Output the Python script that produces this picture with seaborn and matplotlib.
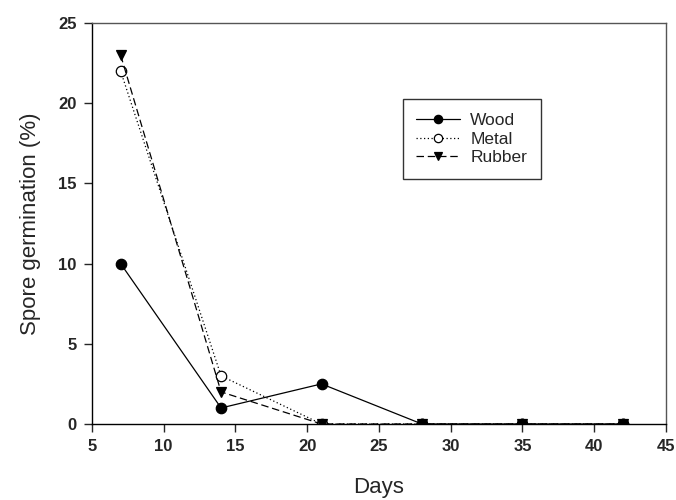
import matplotlib

matplotlib.use("Agg")
import matplotlib.pyplot as plt
import pandas as pd
import seaborn as sns

days = [7, 14, 21, 28, 35, 42]
wood = [10, 1, 2.5, 0, 0, 0]
metal = [22, 3, 0, 0, 0, 0]
rubber = [23, 2, 0, 0, 0, 0]

sns.set_style("ticks")
plt.rcParams["font.family"] = ["Liberation Sans", "DejaVu Sans"]

df = pd.DataFrame({"days": days, "Wood": wood, "Metal": metal, "Rubber": rubber})

fig = plt.figure(figsize=(6.76, 5), dpi=100)
ax = fig.add_axes([0.136, 0.152, 0.849, 0.802])

# series: name, marker, facecolor, linestyle
styles = [
    ("Wood", "o", "black", "-"),
    ("Metal", "o", "white", (0, (1, 2))),
    ("Rubber", "v", "black", (0, (6, 3))),
]
for name, marker, fc, ls in styles:
    sns.lineplot(
        data=df, x="days", y=name, ax=ax, color="black", linewidth=0.9,
        linestyle=ls, marker=marker, markersize=7.5, markerfacecolor=fc,
        markeredgecolor="black", markeredgewidth=0.9, label=name,
        zorder=3 if name != "Metal" else 2,
    )

ax.set_xlim(5, 45)
ax.set_ylim(0, 25)
ax.set_xticks(range(5, 46, 5))
ax.set_yticks(range(0, 26, 5))
ax.tick_params(direction="out", length=6, width=1, labelsize=12, pad=5)
for lab in ax.get_xticklabels() + ax.get_yticklabels():
    lab.set_fontweight("bold")
for sp in ax.spines.values():
    sp.set_linewidth(1)
    sp.set_color("black")
ax.spines["top"].set_color("#555555")
ax.spines["right"].set_color("#555555")

ax.set_xlabel("Days", fontsize=16, labelpad=16)
ax.set_ylabel("Spore germination (%)", fontsize=16, labelpad=12)

leg = ax.legend(
    loc="upper left", bbox_to_anchor=(0.526, 0.832), frameon=True,
    fancybox=False, edgecolor="black", fontsize=12.5, handlelength=2.5,
    handletextpad=0.6, borderpad=0.8, labelspacing=0.2, markerscale=0.8,
)
leg.get_frame().set_linewidth(1)

fig.savefig("out.png", dpi=100)
